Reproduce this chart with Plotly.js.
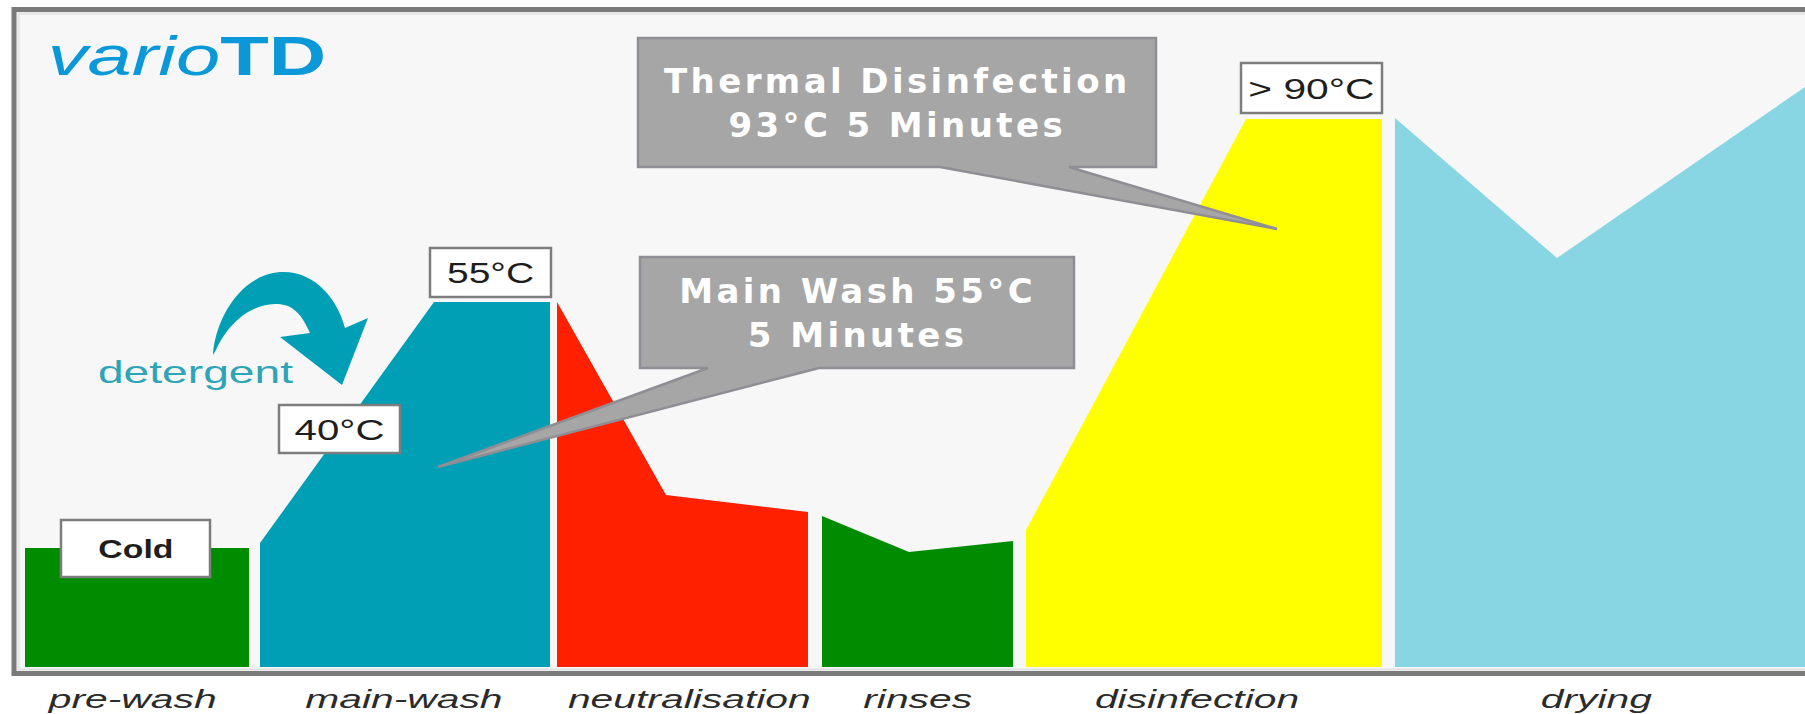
<!DOCTYPE html>
<html>
<head>
<meta charset="utf-8">
<script src="https://cdn.plot.ly/plotly-3.0.1.min.js"></script>
<style>
  html, body { margin: 0; padding: 0; background: #ffffff; }
  #chart { width: 1805px; height: 714px; }
</style>
</head>
<body>
<div id="chart"></div>
<script>
// ---------------- DATA ----------------
// process phases (category labels shown under the chart)
const phases = ['pre-wash', 'main-wash', 'neutralisation', 'rinses', 'disinfection', 'drying'];
// centre of each phase label along the time axis
const phaseLabelTime = [132, 404, 689, 917, 1197, 1596];

// temperature profile of each phase: time positions and level (height above baseline)
const prewashTime = [25, 249];            const prewashLevel = [119, 119];
const mainwashTime = [260, 434, 550];     const mainwashLevel = [124, 365, 365];
const neutralTime = [557, 666, 808];      const neutralLevel = [365, 172, 155];
const rinsesTime = [822, 909, 1013];      const rinsesLevel = [151, 115, 126];
const disinfTime = [1026, 1246, 1382];    const disinfLevel = [137, 548, 548];
const dryingTime = [1395, 1557, 1805];    const dryingLevel = [549, 409, 580];

// temperature tags
const tempTags = ['Cold', '40°C', '55°C', '> 90°C'];
// callout texts
const calloutTexts = ['Thermal Disinfection<br>93°C 5 Minutes', 'Main Wash 55°C<br>5 Minutes'];
const brandText = '<i>vario</i><b>TD</b>';
const detergentText = 'detergent';

// ---------------- STYLE ----------------
const phaseColors = ['#008c00', '#009fb5', '#ff2000', '#008c00', '#ffff00', '#88d6e3'];
const profiles = [
  [prewashTime, prewashLevel], [mainwashTime, mainwashLevel], [neutralTime, neutralLevel],
  [rinsesTime, rinsesLevel], [disinfTime, disinfLevel], [dryingTime, dryingLevel]
];

const traces = profiles.map(function (p, i) {
  const t = p[0], lv = p[1];
  return {
    type: 'scatter', mode: 'lines', name: phases[i],
    x: [t[0]].concat(t, [t[t.length - 1]]),
    y: [0].concat(lv, [0]),
    fill: 'toself', fillcolor: phaseColors[i],
    line: { width: 0, color: 'rgba(0,0,0,0)' },
    hoverinfo: 'skip', showlegend: false
  };
});

function poly(xs, ys) {
  let s = 'M' + xs[0] + ',' + ys[0];
  for (let i = 1; i < xs.length; i++) s += ' L' + xs[i] + ',' + ys[i];
  return s + ' Z';
}

const shapes = [];
// frame
shapes.push({ type: 'rect', xref: 'x', yref: 'y', x0: 14, x1: 1840, y0: -6.5, y1: 657.5,
  fillcolor: '#f7f7f7', line: { color: '#7a7a7a', width: 5 }, layer: 'below' });
shapes.push({ type: 'rect', xref: 'x', yref: 'y', x0: 18.5, x1: 1840, y0: -2.5, y1: 653.5,
  fillcolor: 'rgba(0,0,0,0)', line: { color: '#e2e2e2', width: 2 }, layer: 'below' });

// callouts (box + pointer)
shapes.push({ type: 'path', xref: 'x', yref: 'y', layer: 'above',
  path: poly([638, 1156, 1156, 1069, 1277, 940, 638], [629, 629, 500, 500, 438, 500, 500]),
  fillcolor: '#a6a6a6', line: { color: '#8e8e94', width: 2.5 } });
shapes.push({ type: 'path', xref: 'x', yref: 'y', layer: 'above',
  path: poly([640, 1074, 1074, 819, 438, 708, 640], [410, 410, 299, 299, 200, 299, 299]),
  fillcolor: '#a6a6a6', line: { color: '#8e8e94', width: 2.5 } });

// temperature tag boxes
const tagBoxes = [[61, 210, 90, 147], [279, 400, 214, 262], [430, 551, 370, 419], [1241, 1382, 554, 604]];
tagBoxes.forEach(function (b) {
  shapes.push({ type: 'rect', xref: 'x', yref: 'y', layer: 'above',
    x0: b[0], x1: b[1], y0: b[2], y1: b[3],
    fillcolor: '#ffffff', line: { color: '#7d7d7d', width: 2.5 } });
});

// detergent arrow
shapes.push({ type: 'path', xref: 'x', yref: 'y', layer: 'above',
  path: 'M213,312 C215,347 240,392 280,395 C315,397 338,367 345,339 L368,349 L342,282 L280,330 L310,334 ' +
        'C300,357 290,363 275,363 C245,362 225,337 216,317 Z',
  fillcolor: '#009fb5', line: { width: 0, color: 'rgba(0,0,0,0)' } });

// ---------------- ANNOTATIONS ----------------
const ann = [];
const stretch = [];
const spacing = [];
function addAnn(o, s, ls) { ann.push(Object.assign({ xref: 'x', yref: 'y', showarrow: false,
  xanchor: 'center', yanchor: 'middle' }, o)); stretch.push(s); spacing.push(ls || 0); }

addAnn({ text: brandText, x: 187, y: 612,
  font: { family: 'Liberation Sans, Arial, sans-serif', size: 56, color: '#0a98d8' } }, 1.42);
addAnn({ text: calloutTexts[0], x: 897, y: 564.5,
  font: { family: 'DejaVu Sans, sans-serif', size: 34, color: '#ffffff', weight: 'bold' } }, 1, 3.4);
addAnn({ text: calloutTexts[1], x: 857, y: 354.5,
  font: { family: 'DejaVu Sans, sans-serif', size: 34, color: '#ffffff', weight: 'bold' } }, 1, 3.4);
const tagSizes = [26, 30, 30, 30];
const tagWeights = ['bold', 'normal', 'normal', 'normal'];
const tagStretch = [1.3, 1.34, 1.3, 1.36];
tempTags.forEach(function (t, i) {
  const b = tagBoxes[i];
  addAnn({ text: t, x: (b[0] + b[1]) / 2, y: (b[2] + b[3]) / 2,
    font: { family: 'Liberation Sans, Arial, sans-serif', size: tagSizes[i], color: '#1e1e1e', weight: tagWeights[i] } }, tagStretch[i]);
});
addAnn({ text: detergentText, x: 195.5, y: 295,
  font: { family: 'Liberation Sans, Arial, sans-serif', size: 31, color: '#2ea4b7' } }, 1.49);
phases.forEach(function (p, i) {
  addAnn({ text: '<i>' + p + '</i>', x: phaseLabelTime[i], y: -32,
    font: { family: 'Liberation Sans, Arial, sans-serif', size: 26, color: '#2b2b2b' } }, 1.57);
});

// per-annotation text stretch / letter spacing
let css = '';
stretch.forEach(function (s, i) {
  css += '.annotation[data-index="' + i + '"] text.annotation-text{';
  if (s !== 1) css += 'transform:scaleX(' + s + ');transform-box:fill-box;transform-origin:50% 50%;';
  if (spacing[i]) css += 'letter-spacing:' + spacing[i] + 'px;';
  css += '}\n';
});
const st = document.createElement('style');
st.textContent = css;
document.head.appendChild(st);

const layout = {
  width: 1805, height: 714,
  margin: { l: 0, r: 0, t: 0, b: 0, pad: 0 },
  paper_bgcolor: '#ffffff', plot_bgcolor: '#ffffff',
  showlegend: false,
  xaxis: { range: [0, 1805], visible: false, showgrid: false, zeroline: false, fixedrange: true },
  yaxis: { range: [-47, 667], visible: false, showgrid: false, zeroline: false, fixedrange: true },
  shapes: shapes,
  annotations: ann
};

Plotly.newPlot('chart', traces, layout, { displayModeBar: false, staticPlot: true });
</script>
</body>
</html>
